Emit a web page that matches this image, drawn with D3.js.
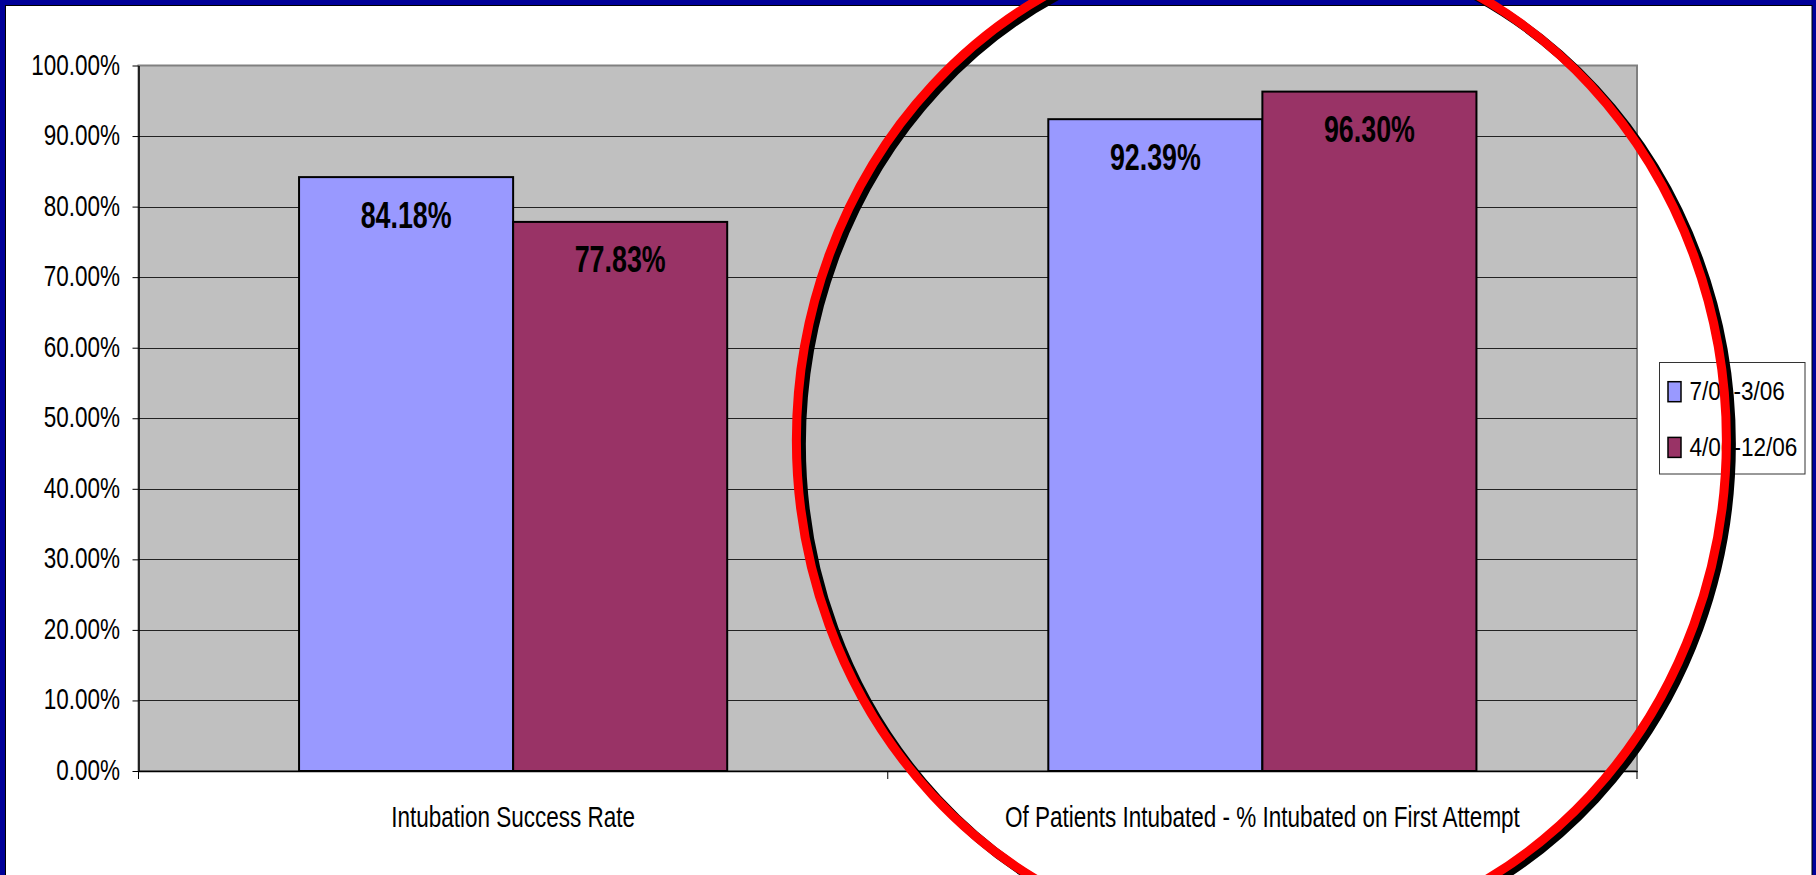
<!DOCTYPE html>
<html>
<head>
<meta charset="utf-8">
<script src="https://cdn.jsdelivr.net/npm/d3@7"></script>
<style>
  html, body { margin: 0; padding: 0; background: #fff; }
  svg { display: block; }
  text { font-family: "Liberation Sans", Arial, sans-serif; fill: #000; }
</style>
</head>
<body>
<script>
// ---------------- data ----------------
const categories = ["Intubation Success Rate", "Of Patients Intubated - % Intubated on First Attempt"];
const seriesNames = ["7/05-3/06", "4/06-12/06"];
const series1 = [0.8418, 0.9239];   // 7/05-3/06
const series2 = [0.7783, 0.9630];   // 4/06-12/06
const yTicks = [0, 0.1, 0.2, 0.3, 0.4, 0.5, 0.6, 0.7, 0.8, 0.9, 1.0];
const seriesColors = ["#9999FF", "#993366"];

// ---------------- layout ----------------
const W = 1816, H = 875;
const plot = { left: 138.5, right: 1637, top: 65.5, bottom: 771 };

const svg = d3.select("body").append("svg").attr("width", W).attr("height", H);

// frame
svg.append("rect").attr("x", 0).attr("y", 0).attr("width", W).attr("height", H).attr("fill", "#000099");
svg.append("rect").attr("x", 5.5).attr("y", 5.5).attr("width", 1806.5).attr("height", H + 10)
  .attr("fill", "#fff").attr("stroke", "#000").attr("stroke-width", 1);

// scales
const x0 = d3.scaleBand().domain(categories).range([plot.left, plot.right]).paddingInner(0).paddingOuter(0);
const x1 = d3.scaleBand().domain(seriesNames).range([0, x0.bandwidth()]).paddingInner(0).paddingOuter(0.75);
const y = d3.scaleLinear().domain([0, 1]).range([plot.bottom, plot.top]);

// helper for horizontally condensed text
function sText(parent, x, yy, str, o) {
  const g = parent.append("g").attr("transform", `translate(${x},${yy})`);
  g.append("text")
    .attr("transform", `scale(${o.sx},1)`)
    .attr("text-anchor", o.anchor || "start")
    .attr("font-size", o.size + "px")
    .attr("font-weight", o.weight || "normal")
    .text(str);
  return g;
}

// plot background
svg.append("rect")
  .attr("x", plot.left).attr("y", plot.top)
  .attr("width", plot.right - plot.left).attr("height", plot.bottom - plot.top)
  .attr("fill", "#C0C0C0").attr("stroke", "#808080").attr("stroke-width", 2);

// gridlines
svg.append("g").selectAll("line").data(yTicks.filter(d => d > 0 && d < 1)).join("line")
  .attr("x1", plot.left).attr("x2", plot.right)
  .attr("y1", d => Math.round(y(d)) + 0.5).attr("y2", d => Math.round(y(d)) + 0.5)
  .attr("stroke", "#222").attr("stroke-width", 1);

// bars
const seriesData = [series1, series2];
const barG = svg.append("g");
categories.forEach((c, ci) => {
  seriesNames.forEach((s, si) => {
    const v = seriesData[si][ci];
    const bx = x0(c) + x1(s);
    barG.append("rect")
      .attr("x", bx).attr("y", y(v))
      .attr("width", x1.bandwidth()).attr("height", y(0) - y(v))
      .attr("fill", seriesColors[si]).attr("stroke", "#000").attr("stroke-width", 2);
    sText(barG, bx + x1.bandwidth() / 2, y(v) + 50.5, d3.format(".2%")(v),
      { size: 37, weight: "bold", sx: 0.725, anchor: "middle" });
  });
});

// y axis
const yAxis = d3.axisLeft(y).tickValues(yTicks).tickFormat(d3.format(".2%")).tickSizeInner(6).tickSizeOuter(0);
const yg = svg.append("g").attr("transform", `translate(${plot.left},0)`).call(yAxis);
yg.select(".domain").attr("stroke", "#000").attr("stroke-width", 1.5);
yg.selectAll(".tick line").attr("stroke", "#000");
yg.selectAll(".tick text").each(function () {
  const t = d3.select(this);
  t.attr("x", -18.5 / 0.75).attr("dy", null).attr("y", 8.5)
    .attr("transform", "scale(0.75,1)")
    .attr("font-size", "30px").attr("font-family", "Liberation Sans, Arial, sans-serif")
    .attr("fill", "#000");
});

// x axis
const xAxis = d3.axisBottom(x0).tickSize(0).tickFormat("");
const xg = svg.append("g").attr("transform", `translate(0,${plot.bottom})`).call(xAxis);
xg.select(".domain").attr("stroke", "#000").attr("stroke-width", 1.5);
xg.selectAll(".tick").remove();
const boundaries = categories.map(c => x0(c)).concat([x0.range()[1]]);
xg.selectAll("line.sep").data(boundaries).join("line")
  .attr("class", "sep")
  .attr("x1", d => d).attr("x2", d => d).attr("y1", 0).attr("y2", 8)
  .attr("stroke", "#000").attr("stroke-width", 1);
categories.forEach(c => {
  sText(svg, x0(c) + x0.bandwidth() / 2, 826.5, c, { size: 30, sx: 0.75, anchor: "middle" });
});

// legend
const lg = svg.append("g");
lg.append("rect").attr("x", 1659.5).attr("y", 362.5).attr("width", 145.5).attr("height", 111.5)
  .attr("fill", "#fff").attr("stroke", "#333").attr("stroke-width", 1);
seriesNames.forEach((s, i) => {
  const ry = 381.7 + i * 55.7;
  lg.append("rect").attr("x", 1668).attr("y", ry).attr("width", 13).attr("height", 20)
    .attr("fill", seriesColors[i]).attr("stroke", "#000").attr("stroke-width", 1.5);
  sText(lg, 1689.5, ry + 18.5, s, { size: 25.5, sx: 0.885 });
});

// red highlight ellipse with dark shadow
const ecx = x0(categories[1]) + x0.bandwidth() / 2 - 1;
const ecy = y(0.469);
const erx = 465, ery = 502;
svg.append("ellipse").attr("cx", ecx + 5).attr("cy", ecy + 4)
  .attr("rx", erx).attr("ry", ery)
  .attr("fill", "none").attr("stroke", "#000").attr("stroke-width", 9);
svg.append("ellipse").attr("cx", ecx).attr("cy", ecy)
  .attr("rx", erx).attr("ry", ery)
  .attr("fill", "none").attr("stroke", "#FF0000").attr("stroke-width", 9);
</script>
</body>
</html>
